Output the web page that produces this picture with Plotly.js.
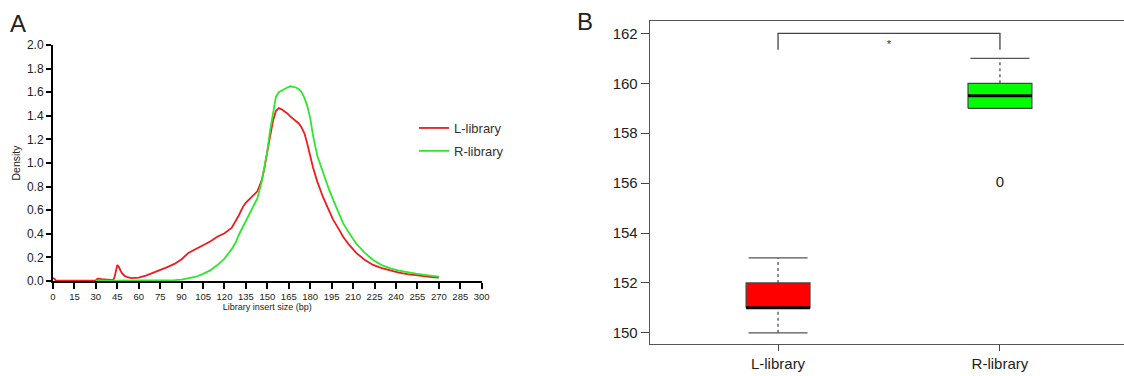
<!DOCTYPE html>
<html>
<head>
<meta charset="utf-8">
<script src="https://cdn.plot.ly/plotly-3.0.1.min.js"></script>
<style>html,body{margin:0;padding:0;background:#fff;overflow:hidden}#chart{width:1124px;height:376px}</style>
</head>
<body>
<div id="chart"></div>
<script>
// ---------- Panel A: insert size density ----------
const insertSize = [0,1,2,10,20,29,30,31,32,34,37,40,42,43,44,45,46,47,48,50,52,55,58,60,65,70,75,80,85,90,95,100,105,110,115,120,125,128,130,133,135,138,140,143,146,148,150,152,154,156,158,160,162,164,166,168,170,172,174,176,178,180,182,185,189,193,196,200,203,207,212,218,224,230,236,242,248,254,260,265,270];
const densityL = [0.025,0.02,0.003,0.002,0.002,0.002,0.005,0.018,0.02,0.015,0.01,0.006,0.008,0.03,0.09,0.135,0.12,0.09,0.07,0.045,0.032,0.025,0.024,0.028,0.045,0.068,0.095,0.118,0.145,0.185,0.24,0.27,0.30,0.335,0.375,0.405,0.45,0.51,0.555,0.63,0.665,0.70,0.725,0.76,0.85,0.96,1.10,1.23,1.36,1.44,1.465,1.455,1.44,1.42,1.395,1.375,1.36,1.335,1.30,1.25,1.16,1.06,0.96,0.84,0.71,0.60,0.52,0.44,0.375,0.31,0.24,0.18,0.136,0.11,0.088,0.07,0.058,0.048,0.04,0.033,0.028];
const densityR = [null,null,null,null,null,null,0.002,0.003,0.003,0.003,0.003,0.003,0.003,0.003,0.003,0.003,0.003,0.003,0.003,0.003,0.003,0.003,0.003,0.003,0.003,0.004,0.004,0.005,0.007,0.012,0.022,0.036,0.06,0.09,0.135,0.19,0.27,0.33,0.39,0.46,0.51,0.58,0.62,0.70,0.84,0.96,1.10,1.28,1.44,1.56,1.60,1.615,1.625,1.64,1.65,1.645,1.64,1.625,1.60,1.55,1.48,1.38,1.23,1.06,0.91,0.78,0.69,0.58,0.49,0.41,0.32,0.24,0.178,0.135,0.107,0.087,0.072,0.062,0.052,0.044,0.037];
const seriesNames = ['L-library','R-library'];
const xTicksA = [0,15,30,45,60,75,90,105,120,135,150,165,180,195,210,225,240,255,270,285,300];
const yTicksA = [0,0.2,0.4,0.6,0.8,1.0,1.2,1.4,1.6,1.8,2.0];

// ---------- Panel B: box plot ----------
const categories = ['L-library','R-library'];
const boxQ1 = [151, 159];
const boxMedian = [151, 159.5];
const boxQ3 = [152, 160];
const whiskerLow = [150, 159];
const whiskerHigh = [153, 161];
const outlierGroup = [1];
const outlierValue = [156];
const outlierLabel = ['0'];
const sigBracketTop = 162;
const sigBracketEnd = 161.35;
const sigLabel = '*';
const yTicksB = [150,152,154,156,158,160,162];

const lineColors = ['#ee1c1c', '#2ee62e'];
const boxColors = ['#ff0000', '#00ff00'];
const FONT = 'Liberation Sans, Arial, sans-serif';

const traces = [];
traces.push({x: insertSize, y: densityL, type: 'scatter', mode: 'lines', name: seriesNames[0],
  line: {color: lineColors[0], width: 1.8}, xaxis: 'x', yaxis: 'y', legendgroup: 'a'});
traces.push({x: insertSize, y: densityR, type: 'scatter', mode: 'lines', name: seriesNames[1],
  line: {color: lineColors[1], width: 1.8}, xaxis: 'x', yaxis: 'y', legendgroup: 'b', connectgaps: false});

const halfBox = 0.144, halfCap = 0.133;
categories.forEach((c, i) => {
  const common = {type: 'scatter', mode: 'lines', xaxis: 'x2', yaxis: 'y2', showlegend: false, hoverinfo: 'skip'};
  if (whiskerHigh[i] > boxQ3[i]) traces.push(Object.assign({}, common, {x: [i, i], y: [boxQ3[i], whiskerHigh[i]], line: {color: '#444', width: 1.2, dash: '3px,3px'}}));
  if (whiskerLow[i] < boxQ1[i]) traces.push(Object.assign({}, common, {x: [i, i], y: [whiskerLow[i], boxQ1[i]], line: {color: '#444', width: 1.2, dash: '3px,3px'}}));
  traces.push(Object.assign({}, common, {x: [i - halfCap, i + halfCap], y: [whiskerHigh[i], whiskerHigh[i]], line: {color: '#555', width: 1.3}}));
  traces.push(Object.assign({}, common, {x: [i - halfCap, i + halfCap], y: [whiskerLow[i], whiskerLow[i]], line: {color: '#555', width: 1.3}}));
  traces.push(Object.assign({}, common, {x: [i - halfBox, i + halfBox, i + halfBox, i - halfBox, i - halfBox],
    y: [boxQ1[i], boxQ1[i], boxQ3[i], boxQ3[i], boxQ1[i]], fill: 'toself', fillcolor: boxColors[i], line: {color: '#444', width: 1.2}}));
  traces.push(Object.assign({}, common, {x: [i - halfBox, i + halfBox], y: [boxMedian[i], boxMedian[i]], line: {color: '#000', width: 3}}));
});
traces.push({type: 'scatter', mode: 'text', x: outlierGroup, y: outlierValue, text: outlierLabel,
  textfont: {family: FONT, size: 15, color: '#222'}, xaxis: 'x2', yaxis: 'y2', showlegend: false, hoverinfo: 'skip'});
traces.push({type: 'scatter', mode: 'lines', x: [0, 0, 1, 1], y: [sigBracketEnd, sigBracketTop, sigBracketTop, sigBracketEnd],
  line: {color: '#444', width: 1.3}, xaxis: 'x2', yaxis: 'y2', showlegend: false, hoverinfo: 'skip'});
traces.push({type: 'scatter', mode: 'text', x: [0.5], y: [sigBracketEnd + 0.18], text: [sigLabel],
  textfont: {family: FONT, size: 11, color: '#333'}, xaxis: 'x2', yaxis: 'y2', showlegend: false, hoverinfo: 'skip'});

const W = 1124, H = 376;
const layout = {
  width: W, height: H,
  margin: {l: 0, r: 0, t: 0, b: 0},
  paper_bgcolor: '#fff', plot_bgcolor: 'rgba(0,0,0,0)',
  font: {family: FONT, color: '#222'},
  showlegend: true,
  legend: {x: 414 / W, y: 1 - 113 / H, xanchor: 'left', yanchor: 'top', font: {family: FONT, size: 13, color: '#333'},
    bgcolor: 'rgba(0,0,0,0)', tracegroupgap: 3, traceorder: 'grouped'},
  xaxis: {domain: [53 / W, 481.7 / W], range: [0, 300], tickvals: xTicksA, ticks: 'outside', ticklen: 6, tickwidth: 2, tickcolor: '#000',
    showline: true, linewidth: 2, linecolor: '#000', showgrid: false, zeroline: false, layer: 'below traces', anchor: 'y',
    tickfont: {size: 9.5, color: '#222'}, automargin: false,
    title: {text: 'Library insert size (bp)', font: {size: 9, color: '#222'}, standoff: 1}},
  yaxis: {domain: [1 - 281 / H, 1 - 45 / H], range: [0, 2], tickvals: yTicksA, tickformat: '.1f', ticks: 'outside', ticklen: 5, tickwidth: 2, tickcolor: '#000',
    showline: true, linewidth: 2, linecolor: '#000', showgrid: false, zeroline: false, layer: 'below traces', anchor: 'x',
    tickfont: {size: 12, color: '#222'}, automargin: false,
    title: {text: 'Density', font: {size: 10.5, color: '#222'}, standoff: 4}},
  xaxis2: {domain: [650 / W, 1], range: [-0.577, 1.559], tickvals: [0, 1], ticktext: categories, ticks: 'outside', ticklen: 6, tickwidth: 1, tickcolor: '#444',
    showline: true, mirror: true, linewidth: 1.3, linecolor: '#555', showgrid: false, zeroline: false, anchor: 'y2',
    tickfont: {size: 15, color: '#222'}, automargin: false},
  yaxis2: {domain: [1 - 344 / H, 1 - 21 / H], range: [149.55, 162.5], tickvals: yTicksB, ticks: 'outside', ticklen: 8, tickwidth: 1, tickcolor: '#444',
    showline: true, mirror: false, linewidth: 1.3, linecolor: '#555', showgrid: false, zeroline: false, anchor: 'x2',
    tickfont: {size: 15, color: '#222'}, automargin: false},
  annotations: [
    {text: 'A', xref: 'paper', yref: 'paper', x: 8 / W, y: 1 - 8 / H, xanchor: 'left', yanchor: 'top', showarrow: false, font: {family: FONT, size: 24, color: '#222'}},
    {text: 'B', xref: 'paper', yref: 'paper', x: 575 / W, y: 1 - 6 / H, xanchor: 'left', yanchor: 'top', showarrow: false, font: {family: FONT, size: 24, color: '#222'}}
  ]
};
Plotly.newPlot('chart', traces, layout, {staticPlot: true, displayModeBar: false});
</script>
</body>
</html>
